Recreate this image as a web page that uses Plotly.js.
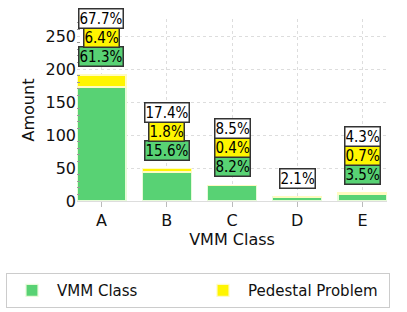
<!DOCTYPE html>
<html><head><meta charset="utf-8">
<script src="https://cdn.plot.ly/plotly-3.0.1.min.js"></script>
<style>html,body{margin:0;padding:0;background:#fff}#chart{width:407px;height:312px}</style>
</head><body><div id="chart"></div>
<script>
const categories = ["A", "B", "C", "D", "E"];
const vmmClass = [173, 44, 23, 6, 10];
const pedestalProblem = [18, 5, 1, 0, 2];
const seriesNames = ["VMM Class", "Pedestal Problem"];

const green = "#58d274";
const yellow = "#fff500";
const font = "DejaVu Sans, sans-serif";
const annFont = "DejaVu Sans Condensed, Liberation Sans Narrow, DejaVu Sans, sans-serif";

const grand = vmmClass.reduce((a,b)=>a+b,0) + pedestalProblem.reduce((a,b)=>a+b,0);
const pct = v => (100*v/grand).toFixed(1) + "%";

const annotations = [];
categories.forEach((c,i)=>{
  const tot = vmmClass[i] + pedestalProblem[i];
  const items = [];
  if (vmmClass[i] > 0 && pedestalProblem[i] > 0) {
    items.push({v: vmmClass[i], bg: green});
    items.push({v: pedestalProblem[i], bg: yellow});
  }
  items.push({v: tot, bg: "#ffffff"});
  items.forEach((it,k)=>{
    annotations.push({
      x: c, y: tot, xref: "x", yref: "y", showarrow: false,
      yanchor: "bottom", yshift: 8 + k*19,
      text: pct(it.v), bgcolor: it.bg, bordercolor: "#333333",
      borderwidth: 1.5, borderpad: 0,
      font: {family: annFont, size: 15, color: "#000"}
    });
  });
});

const traces = [
  {type: "bar", name: seriesNames[0], x: categories, y: vmmClass,
   marker: {color: green, line: {color: "#e6fbd8", width: 1.2}}, width: 0.75},
  {type: "bar", name: seriesNames[1], x: categories, y: pedestalProblem,
   marker: {color: yellow, line: {color: "#fffbc0", width: 1.2}}, width: 0.75}
];

const layout = {
  width: 407, height: 312, barmode: "stack",
  margin: {l: 77, r: 0, t: 19, b: 111, autoexpand: false},
  paper_bgcolor: "#fff", plot_bgcolor: "#fff",
  font: {family: font, size: 16, color: "#111"},
  xaxis: {domain: [0, 310/330], title: {text: "VMM Class", font: {size: 16}, standoff: 4},
    range: [-0.375, 4.375], showgrid: true, gridcolor: "#dddddd", griddash: "dot",
    ticks: "outside", ticklen: 5, tickcolor: "#bbbbbb", showline: true, linecolor: "#dddddd",
    zeroline: false},
  yaxis: {title: {text: "Amount", font: {size: 16}, standoff: 6},
    range: [0, 276], dtick: 50, showgrid: true, gridcolor: "#dddddd", griddash: "dot",
    ticks: "", showline: false, zeroline: false,
    minor: {dtick: 10, ticks: "inside", ticklen: 3, tickcolor: "#999999", showgrid: false}},
  showlegend: true,
  legend: {orientation: "h", x: -71/330, y: -0.396,
    xanchor: "left", yanchor: "top", bordercolor: "#cccccc", borderwidth: 1,
    itemwidth: 40,
    entrywidth: 136, entrywidthmode: "pixels", font: {size: 15}, traceorder: "normal"},
  annotations: annotations
};
Plotly.newPlot("chart", traces, layout, {staticPlot: true, displayModeBar: false});
</script></body></html>
